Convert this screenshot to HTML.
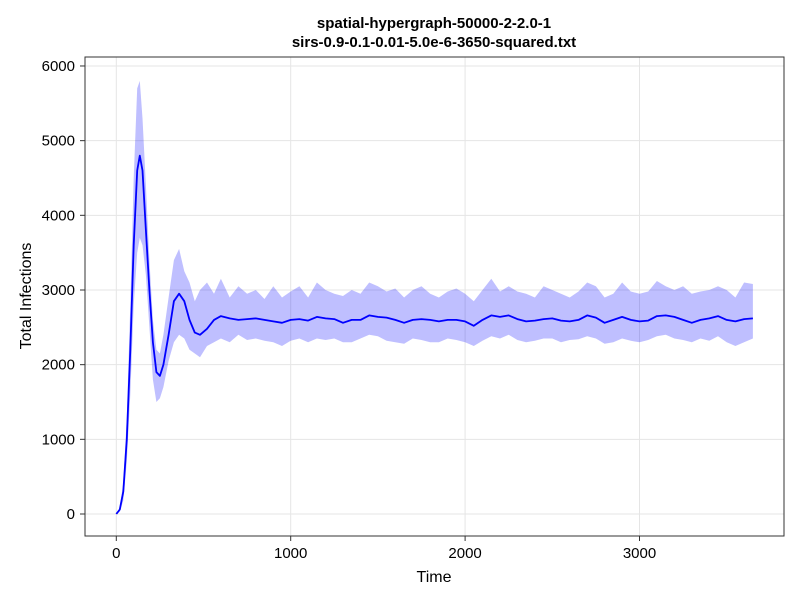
<!DOCTYPE html>
<html><head><meta charset="utf-8"><style>
body{margin:0;background:#fff;font-family:"Liberation Sans",sans-serif;}
svg text{font-family:"Liberation Sans",sans-serif;}
</style></head><body>
<svg id="chart" width="800" height="600">
<rect width="800" height="600" fill="#fff"/>
<text x="434" y="28" text-anchor="middle" font-size="15" font-weight="bold">spatial-hypergraph-50000-2-2.0-1</text>
<text x="434" y="47" text-anchor="middle" font-size="15" font-weight="bold">sirs-0.9-0.1-0.01-5.0e-6-3650-squared.txt</text>
<g id="grid"></g>
<g id="marks"></g>
<rect x="85" y="57" width="699" height="479" fill="none" stroke="#333" stroke-width="1"/>
<g id="axes"></g>
<text x="434" y="582" text-anchor="middle" font-size="16">Time</text>
<text transform="translate(31,296) rotate(-90)" text-anchor="middle" font-size="16">Total Infections</text>
</svg>
<script>
const times=[0,20,40,60,80,100,120,135,150,170,190,210,230,250,270,300,330,360,390,420,450,480,520,560,600,650,700,750,800,850,900,950,1000,1050,1100,1150,1200,1250,1300,1350,1400,1450,1500,1550,1600,1650,1700,1750,1800,1850,1900,1950,2000,2050,2100,2150,2200,2250,2300,2350,2400,2450,2500,2550,2600,2650,2700,2750,2800,2850,2900,2950,3000,3050,3100,3150,3200,3250,3300,3350,3400,3450,3500,3550,3600,3650];
const meanVals=[0,60,300,1000,2200,3600,4600,4800,4600,3800,3000,2300,1900,1850,2000,2400,2850,2950,2850,2600,2430,2400,2480,2600,2650,2620,2600,2610,2620,2600,2580,2560,2600,2610,2590,2640,2620,2610,2560,2600,2600,2660,2640,2630,2600,2560,2600,2610,2600,2580,2600,2600,2580,2520,2600,2660,2640,2660,2610,2580,2590,2610,2620,2590,2580,2600,2660,2630,2560,2600,2640,2600,2580,2590,2650,2660,2640,2600,2560,2600,2620,2650,2600,2580,2610,2620];
const upperVals=[0,90,420,1300,2800,4500,5700,5800,5300,4400,3400,2600,2200,2150,2400,2900,3400,3550,3250,3100,2850,3000,3100,2950,3150,2900,3050,2950,3000,2880,3050,2900,2980,3050,2900,3100,3000,2950,2920,3000,2950,3100,3050,2980,3020,2900,3000,3050,2950,2900,2980,3020,2950,2850,3000,3150,2980,3050,2980,2950,2900,3050,3000,2950,2900,2980,3100,3050,2900,2950,3100,2980,2950,2980,3120,3050,3000,3050,2950,2980,3000,3050,3000,2900,3100,3080];
const lowerVals=[0,30,180,700,1600,2800,3500,3700,3600,3200,2500,1800,1500,1550,1700,2050,2300,2400,2350,2200,2150,2100,2250,2300,2350,2300,2400,2330,2350,2320,2300,2250,2320,2350,2300,2350,2330,2350,2300,2300,2350,2400,2380,2320,2300,2280,2350,2330,2300,2300,2350,2330,2300,2250,2320,2380,2350,2400,2330,2300,2320,2350,2350,2300,2330,2340,2380,2350,2280,2300,2350,2320,2300,2330,2380,2400,2350,2330,2300,2350,2320,2380,2300,2250,2300,2350];
const xTicks=[0,1000,2000,3000];
const yTicks=[0,1000,2000,3000,4000,5000,6000];
const NS='http://www.w3.org/2000/svg';
function xs(v){return 116.3+v*0.1744;}
function ys(v){return 514-v*0.07467;}
const grid=document.getElementById('grid'),marks=document.getElementById('marks'),axes=document.getElementById('axes');
function mk(tag,attrs,parent){const e=document.createElementNS(NS,tag);for(const k in attrs)e.setAttribute(k,attrs[k]);parent.appendChild(e);return e;}
xTicks.forEach(t=>{
  const l=mk('line',{x1:xs(t),x2:xs(t),y1:57,y2:536,stroke:'#e5e5e5'},grid);
  
  
  const tk=mk('line',{x1:xs(t),x2:xs(t),y1:536,y2:541,stroke:'#333'},axes);
  
  
  const tx=mk('text',{x:xs(t),y:558,'text-anchor':'middle','font-size':'15'},axes);
  tx.textContent=t;
  
  
});
yTicks.forEach(t=>{
  const l=mk('line',{x1:85,x2:784,y1:ys(t),y2:ys(t),stroke:'#e5e5e5'},grid);
  
  
  const tk=mk('line',{x1:80,x2:85,y1:ys(t),y2:ys(t),stroke:'#333'},axes);
  
  
  const tx=mk('text',{x:75,y:ys(t)+5,'text-anchor':'end','font-size':'15'},axes);
  tx.textContent=t;
  
  
});
let d='';
times.forEach((t,i)=>{d+=(i?'L':'M')+xs(t).toFixed(1)+','+ys(upperVals[i]).toFixed(1);});
for(let i=times.length-1;i>=0;i--){d+='L'+xs(times[i]).toFixed(1)+','+ys(lowerVals[i]).toFixed(1);}
const band=mk('path',{d:d+'Z',fill:'rgba(0,0,255,0.25)',stroke:'none'},marks);


let m='';
times.forEach((t,i)=>{m+=(i?'L':'M')+xs(t).toFixed(1)+','+ys(meanVals[i]).toFixed(1);});
const line=mk('path',{d:m,fill:'none',stroke:'#0000ff','stroke-width':'1.8','stroke-linejoin':'round'},marks);


</script>
</body></html>
